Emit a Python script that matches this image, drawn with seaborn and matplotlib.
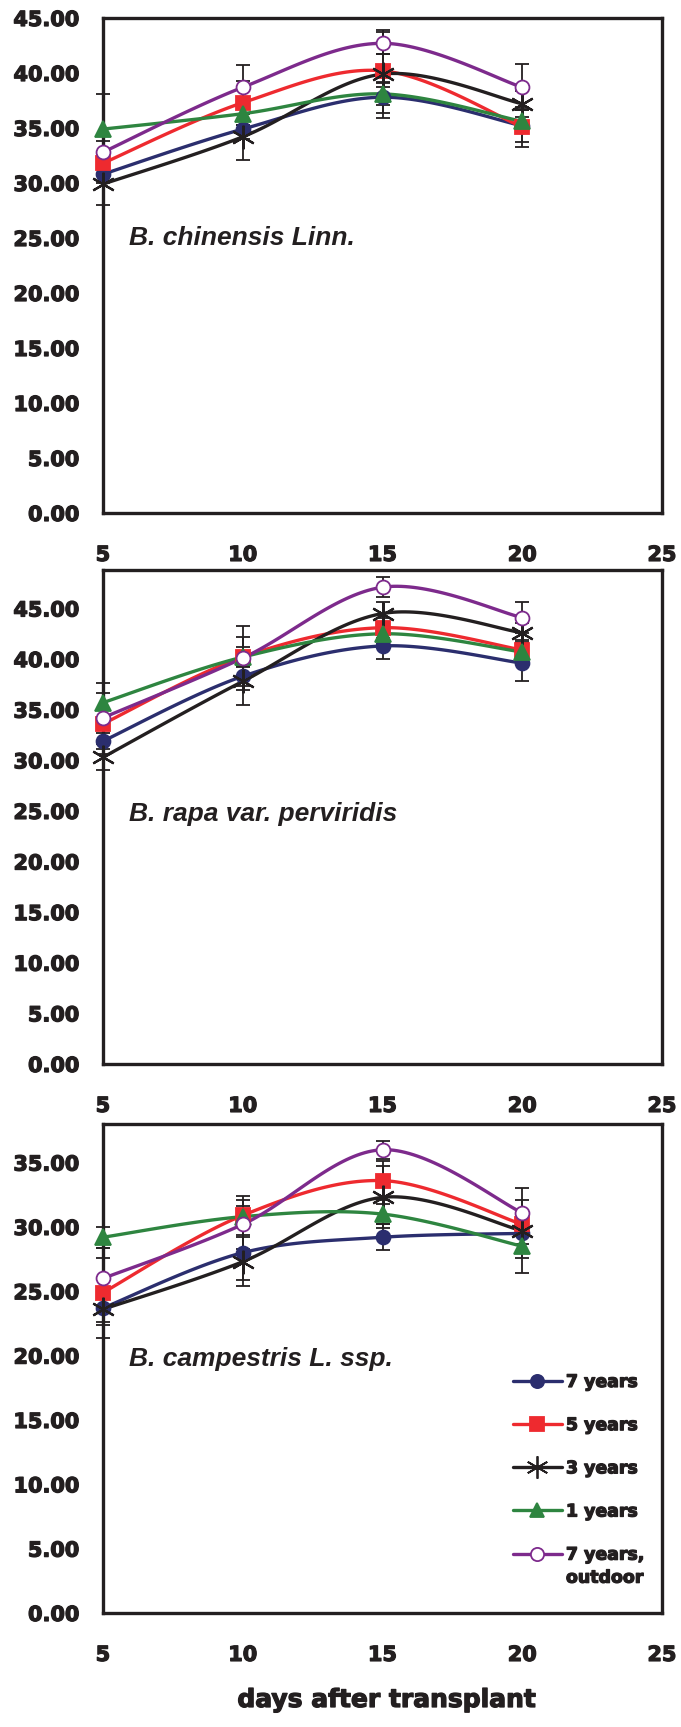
import numpy as np
import matplotlib
matplotlib.use("Agg")
import matplotlib.pyplot as plt
import matplotlib.patheffects as pe
from matplotlib.lines import Line2D
import seaborn as sns

# ---------------- data ----------------
days = [5, 10, 15, 20]
series_names = ["7 years", "5 years", "3 years", "1 years", "7 years,"]
last_label_line2 = "outdoor"

# Panel 1: B. chinensis Linn.
p1_7y = [30.8, 34.9, 37.8, 35.2]
p1_5y = [31.8, 37.3, 40.2, 35.1]
p1_3y = [29.9, 34.2, 39.9, 37.2]
p1_1y = [34.9, 36.3, 38.1, 35.6]
p1_7yo = [32.8, 38.7, 42.7, 38.7]
p1_err_7y = [0.8, 0.9, 1.4, 1.5]
p1_err_5y = [1.0, 2.0, 1.5, 1.8]
p1_err_3y = [1.9, 2.1, 4.0, 1.2]
p1_err_1y = [3.2, 1.0, 1.0, 1.0]
p1_err_7yo = [1.0, 2.0, 1.0, 2.1]

# Panel 2: B. rapa var. perviridis
p2_7y = [31.9, 38.3, 41.3, 39.6]
p2_5y = [33.6, 40.2, 43.1, 40.9]
p2_3y = [30.3, 37.8, 44.5, 42.6]
p2_1y = [35.7, 40.2, 42.5, 40.7]
p2_7yo = [34.2, 40.1, 47.1, 44.1]
p2_err_7y = [0.8, 1.0, 1.3, 1.8]
p2_err_5y = [3.0, 2.0, 1.0, 1.0]
p2_err_3y = [1.3, 2.3, 1.1, 1.0]
p2_err_1y = [1.9, 1.0, 1.0, 1.0]
p2_err_7yo = [1.0, 3.2, 1.0, 1.5]

# Panel 3: B. campestris L. ssp.
p3_7y = [23.7, 28.0, 29.2, 29.5]
p3_5y = [24.9, 30.9, 33.6, 30.2]
p3_3y = [23.6, 27.3, 32.3, 29.7]
p3_1y = [29.2, 30.8, 31.0, 28.5]
p3_7yo = [26.0, 30.2, 36.0, 31.1]
p3_err_7y = [1.3, 2.1, 1.0, 0.8]
p3_err_5y = [3.5, 1.5, 1.5, 0.8]
p3_err_3y = [1.0, 1.9, 2.4, 3.3]
p3_err_1y = [0.8, 0.8, 0.8, 0.9]
p3_err_7yo = [1.6, 1.9, 0.7, 1.0]

panel_titles = ["B. chinensis Linn.", "B. rapa var. perviridis", "B. campestris L. ssp."]
panel_ymax = [45, 48.8, 38]
panel_label_y = [25.0, 24.7, 19.7]
xticks = [5, 10, 15, 20, 25]
xlabel = "days after transplant"

# ---------------- style ----------------
sns.set_style("white")
plt.rcParams["font.family"] = ["DejaVu Sans"]

colors = ["#2B2E6E", "#EE2A2F", "#231F20", "#2E8540", "#7D2A8C"]
markers = ["o", "s", (6, 2, 0), "^", "o"]
msizes = [10, 10, 17, 11, 10]
mfaces = ["#2B2E6E", "#EE2A2F", "#231F20", "#2E8540", "white"]
ink = "#231F20"
heavy = [pe.withStroke(linewidth=0.9, foreground=ink)]


def smooth(x, y, n=40):
    """Catmull-Rom (Excel-like) smoothing through the data points."""
    x = np.asarray(x, float)
    y = np.asarray(y, float)
    px = np.concatenate([[x[0]], x, [x[-1]]])
    py = np.concatenate([[y[0]], y, [y[-1]]])
    xs, ys = [], []
    t = np.linspace(0, 1, n)
    for i in range(1, len(px) - 2):
        for arr, out in ((px, xs), (py, ys)):
            p0, p1, p2, p3 = arr[i - 1], arr[i], arr[i + 1], arr[i + 2]
            out.append(0.5 * (2 * p1 + (-p0 + p2) * t
                              + (2 * p0 - 5 * p1 + 4 * p2 - p3) * t ** 2
                              + (-p0 + 3 * p1 - 3 * p2 + p3) * t ** 3))
    return np.concatenate(xs), np.concatenate(ys)


panels = [
    ([p1_7y, p1_5y, p1_3y, p1_1y, p1_7yo],
     [p1_err_7y, p1_err_5y, p1_err_3y, p1_err_1y, p1_err_7yo]),
    ([p2_7y, p2_5y, p2_3y, p2_1y, p2_7yo],
     [p2_err_7y, p2_err_5y, p2_err_3y, p2_err_1y, p2_err_7yo]),
    ([p3_7y, p3_5y, p3_3y, p3_1y, p3_7yo],
     [p3_err_7y, p3_err_5y, p3_err_3y, p3_err_1y, p3_err_7yo]),
]

W, H = 681, 1727
fig = plt.figure(figsize=(W / 100, H / 100), dpi=100)
boxes = [(18, 513), (570, 1064), (1124, 1613)]
left_px, right_px = 103, 662
leg = None

for k, ((vals, errs), (top, bot)) in enumerate(zip(panels, boxes)):
    ax = fig.add_axes([left_px / W, 1 - bot / H, (right_px - left_px) / W, (bot - top) / H])
    for v, e in zip(vals, errs):
        eb = ax.errorbar(days, v, yerr=e, fmt="none", ecolor=ink, elinewidth=1.3,
                         capsize=5, capthick=1.3, zorder=2)
        for art in eb.lines[1] + eb.lines[2]:
            art.set_clip_on(False)
    for i, v in enumerate(vals):
        sx, sy = smooth(days, v)
        sns.lineplot(x=sx, y=sy, ax=ax, color=colors[i], linewidth=2.4,
                     sort=False, estimator=None, zorder=3)
    for i, v in enumerate(vals):
        ax.plot(days, v, linestyle="none", marker=markers[i], markersize=msizes[i],
                markerfacecolor=mfaces[i], markeredgecolor=colors[i],
                markeredgewidth=1.3 if i != 2 else 1.6, zorder=4, clip_on=False)
    ax.set_xlim(5, 25)
    ax.set_ylim(0, panel_ymax[k])
    ax.set_xticks(xticks)
    yt = np.arange(0, panel_ymax[k] + 0.01, 5)
    ax.set_yticks(yt)
    ax.set_yticklabels([f"{t:.2f}" for t in yt])
    ax.tick_params(axis="both", direction="in", length=7, width=2, color=ink,
                   labelsize=15, labelcolor=ink)
    ax.tick_params(axis="x", pad=23)
    ax.tick_params(axis="y", pad=17)
    for lab in ax.get_xticklabels() + ax.get_yticklabels():
        lab.set_fontweight("bold")
        lab.set_path_effects(heavy)
    for sp in ax.spines.values():
        sp.set_linewidth(2.4)
        sp.set_color(ink)
    ax.text(5.93, panel_label_y[k], panel_titles[k], family="Liberation Sans",
            style="italic", fontweight="bold", fontsize=19, color=ink,
            va="center", ha="left")
    ax.set_xlabel("")
    ax.set_ylabel("")
    if k == 2:
        handles = [Line2D([0], [0], color=colors[i], linewidth=2.4, marker=markers[i],
                          markersize=msizes[i] * 0.95, markerfacecolor=mfaces[i],
                          markeredgecolor=colors[i], markeredgewidth=1.3)
                   for i in range(5)]
        leg = fig.legend(handles, series_names, loc="upper left",
                         bbox_to_anchor=(513 / W, 1 - 1373 / H),
                         frameon=False, borderpad=0, borderaxespad=0,
                         handlelength=2.8, handletextpad=0.25, labelspacing=1.45,
                         prop={"family": "DejaVu Sans", "weight": "bold", "size": 12.5})
        for t in leg.get_texts():
            t.set_color(ink)
            t.set_path_effects(heavy)

fig.canvas.draw()
bb = leg.get_texts()[4].get_window_extent()
fig.text(bb.x0 / W, (bb.y0 - 5) / H, last_label_line2, ha="left", va="top",
         fontsize=12.5, fontweight="bold", color=ink, path_effects=heavy)

fig.text(387 / W, 1 - 1700 / H, xlabel, ha="center", va="center",
         fontsize=18, fontweight="bold", color=ink, path_effects=heavy)

fig.savefig("out.png", dpi=100)
